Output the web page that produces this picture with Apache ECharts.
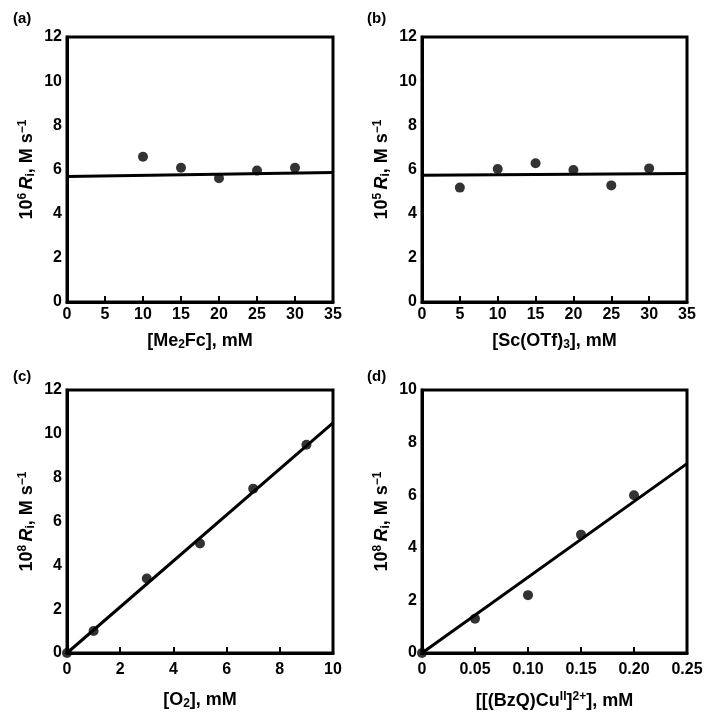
<!DOCTYPE html>
<html><head><meta charset="utf-8">
<script src="https://cdn.jsdelivr.net/npm/echarts@6/dist/echarts.min.js"></script>
<style>html,body{margin:0;padding:0;background:#fff}#c{width:714px;height:717px}</style>
</head><body><div id="c"></div>
<script>
// Panel (a)
const aX = [10, 15, 20, 25, 30];
const aY = [6.58, 6.08, 5.6, 5.95, 6.08];
const aFitX = [0, 35];
const aFitY = [5.68, 5.86];
// Panel (b)
const bX = [5, 10, 15, 20, 25, 30];
const bY = [5.18, 6.02, 6.28, 5.98, 5.28, 6.05];
const bFitX = [0, 35];
const bFitY = [5.74, 5.82];
// Panel (c)
const cX = [0, 1, 3, 5, 7, 9];
const cY = [0, 1.0, 3.4, 5.0, 7.5, 9.5];
const cFitX = [0, 10];
const cFitY = [0, 10.5];
// Panel (d)
const dX = [0, 0.05, 0.10, 0.15, 0.20];
const dY = [0, 1.3, 2.2, 4.5, 6.0];
const dFitX = [0, 0.25];
const dFitY = [0, 7.2];

const panelLabels = ['(a)', '(b)', '(c)', '(d)'];
const xNames = [
  '{n|[Me}{sb|2}{n|Fc], mM}',
  '{n|[Sc(OTf)}{sb|3}{n|], mM}',
  '{n|[O}{sb|2}{n|], mM}',
  '{n|[[(BzQ)Cu}{sp|II}{n|]}{sp|2+}{n|], mM}'
];
const yExp = ['6', '5', '8', '8'];

const FONT = '"Liberation Sans", Arial, sans-serif';
const rich = {
  n: {fontFamily: FONT, fontWeight: 'bold', fontSize: 18, color: '#000'},
  it: {fontFamily: FONT, fontWeight: 'bold', fontStyle: 'italic', fontSize: 18, color: '#000'},
  sp: {fontFamily: FONT, fontWeight: 'bold', fontSize: 12, color: '#000', padding: [0, 0, 9, 0]},
  sb: {fontFamily: FONT, fontWeight: 'bold', fontSize: 12, color: '#000', padding: [7, 0, 0, 0]}
};

const grids = [
  {left: 67, top: 37, width: 266, height: 265},
  {left: 422, top: 37, width: 265, height: 265},
  {left: 67, top: 390, width: 266, height: 263},
  {left: 422, top: 390, width: 265, height: 263}
];
const xCfg = [
  {min: 0, max: 35, interval: 5, fmt: v => String(v), gap: 30, margin: 5},
  {min: 0, max: 35, interval: 5, fmt: v => String(v), gap: 30, margin: 5},
  {min: 0, max: 10, interval: 2, fmt: v => String(v), gap: 38, margin: 9},
  {min: 0, max: 0.25, interval: 0.05, fmt: v => v === 0 ? '0' : v.toFixed(2), gap: 38, margin: 9}
];
const yCfg = [
  {min: 0, max: 12, interval: 2},
  {min: 0, max: 12, interval: 2},
  {min: 0, max: 12, interval: 2},
  {min: 0, max: 10, interval: 2}
];
const pts = [[aX, aY], [bX, bY], [cX, cY], [dX, dY]];
const fits = [[aFitX, aFitY], [bFitX, bFitY], [cFitX, cFitY], [dFitX, dFitY]];

const option = {
  backgroundColor: '#fff',
  animation: false,
  grid: grids.map(g => Object.assign({show: true, borderColor: '#000', borderWidth: 3, backgroundColor: 'transparent', containLabel: false}, g)),
  title: panelLabels.map((t, i) => ({
    text: t,
    left: [8, 362, 8, 362][i],
    top: [6, 6, 364, 364][i],
    textStyle: {fontFamily: FONT, fontWeight: 'bold', fontSize: 15, color: '#000'}
  })),
  xAxis: xCfg.map((c, i) => ({
    type: 'value', gridIndex: i, min: c.min, max: c.max, interval: c.interval,
    name: xNames[i], nameLocation: 'middle', nameGap: c.gap,
    nameTextStyle: {rich: rich},
    axisLine: {show: true, onZero: false, lineStyle: {color: '#000', width: 3}},
    axisTick: {show: true, inside: true, length: 6, lineStyle: {color: '#000', width: 2}},
    axisLabel: {formatter: c.fmt, margin: c.margin, fontFamily: FONT, fontWeight: 'bold', fontSize: 16, color: '#000'},
    splitLine: {show: false}
  })),
  yAxis: yCfg.map((c, i) => ({
    type: 'value', gridIndex: i, min: c.min, max: c.max, interval: c.interval,
    name: '{n|10}{sp|' + yExp[i] + '} {it|R}{sb|i}{n|, M s}{sp|−1}',
    nameLocation: 'middle', nameGap: 29, nameRotate: 90,
    nameTextStyle: {rich: rich},
    axisLine: {show: true, onZero: false, lineStyle: {color: '#000', width: 3}},
    axisTick: {show: false},
    axisLabel: {margin: 5, fontFamily: FONT, fontWeight: 'bold', fontSize: 16, color: '#000'},
    splitLine: {show: false}
  })),
  series: [].concat(
    pts.map((p, i) => ({
      type: 'scatter', xAxisIndex: i, yAxisIndex: i,
      data: p[0].map((x, k) => [x, p[1][k]]),
      symbol: 'circle', symbolSize: 10,
      itemStyle: {color: '#000'}, z: 3
    })),
    fits.map((f, i) => ({
      type: 'line', xAxisIndex: i, yAxisIndex: i,
      data: f[0].map((x, k) => [x, f[1][k]]),
      showSymbol: false, symbol: 'none',
      lineStyle: {color: '#000', width: 3}, z: 2
    }))
  )
};
const chart = echarts.init(document.getElementById('c'), null, {renderer: 'canvas'});
chart.setOption(option);
</script>
</body></html>
